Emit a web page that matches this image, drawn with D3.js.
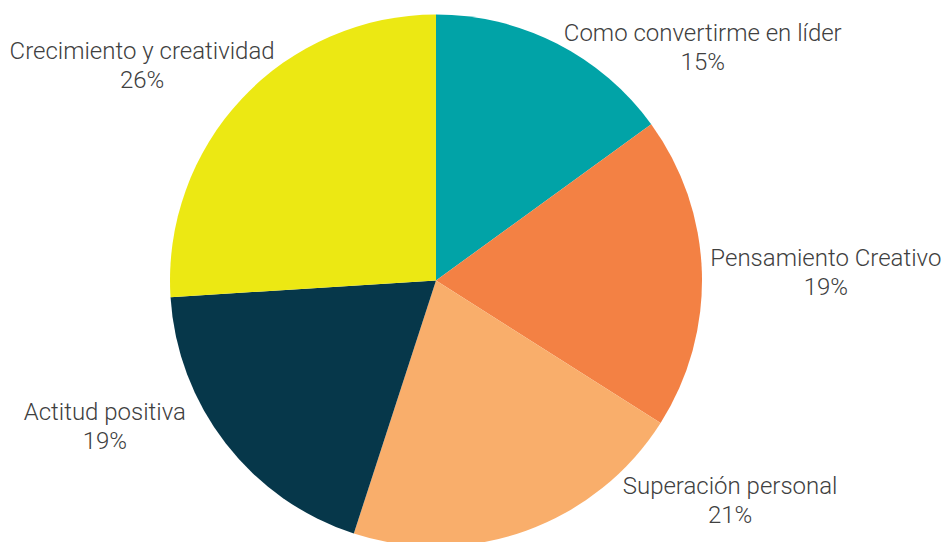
<!DOCTYPE html>
<html lang="es">
<head>
<meta charset="utf-8">
<script src="https://cdn.jsdelivr.net/npm/d3@7"></script>
<style>
  html, body { margin: 0; padding: 0; background: #ffffff; }
  svg { display: block; }
  .lbl { font-family: Roboto, "Noto Sans", sans-serif; font-weight: 300; font-size: 24px; fill: #404040; }
</style>
</head>
<body>
<svg id="chart" width="945" height="542"></svg>
<script>
// Temas y su porcentaje
const categories = [
  "Como convertirme en líder",
  "Pensamiento Creativo",
  "Superación personal",
  "Actitud positiva",
  "Crecimiento y creatividad"
];
const values = [15, 19, 21, 19, 26];
const colors = ["#01a3a7", "#f38144", "#f9ae6b", "#06374a", "#ece813"];

// Desplazamiento de cada etiqueta respecto al borde del sector
const labelShift = {
  "Como convertirme en líder": [146, -2.5],
  "Pensamiento Creativo": [124, -6],
  "Superación personal": [204, -36.5],
  "Actitud positiva": [-121, -24],
  "Crecimiento y creatividad": [-100, -39]
};

const width = 945, height = 542;
const cx = 436, cy = 280.5, radius = 266;
const lineGap = 29;

const svg = d3.select("#chart");
const g = svg.append("g").attr("transform", `translate(${cx},${cy})`);

const data = categories.map((c, i) => ({ category: c, value: values[i] }));

const color = d3.scaleOrdinal().domain(categories).range(colors);

const pie = d3.pie().value(d => d.value).sort(null);
const arcs = pie(data);

const arc = d3.arc().innerRadius(0).outerRadius(radius);
const edgeArc = d3.arc().innerRadius(radius).outerRadius(radius);

g.selectAll("path.slice")
  .data(arcs)
  .join("path")
  .attr("class", "slice")
  .attr("d", arc)
  .attr("fill", d => color(d.data.category));

const total = d3.sum(values);
const fmt = d3.format(".0%");

const labels = g.selectAll("text.lbl")
  .data(arcs)
  .join("text")
  .attr("class", "lbl")
  .attr("text-anchor", "middle")
  .attr("transform", d => {
    const [x, y] = edgeArc.centroid(d);
    const [dx, dy] = labelShift[d.data.category];
    return `translate(${x + dx},${y + dy})`;
  });

labels.append("tspan")
  .attr("x", 0).attr("y", 0)
  .text(d => d.data.category);

labels.append("tspan")
  .attr("x", 0).attr("y", lineGap)
  .text(d => fmt(d.data.value / total));
</script>
</body>
</html>
